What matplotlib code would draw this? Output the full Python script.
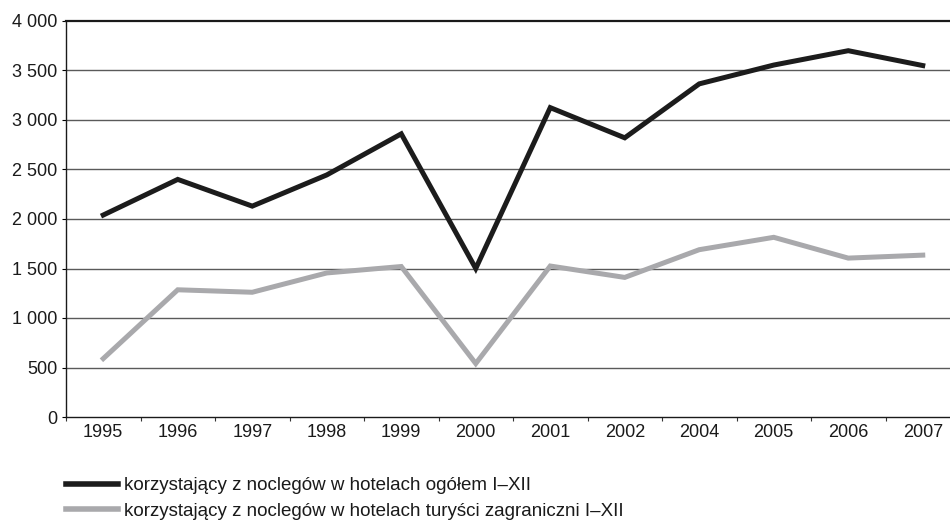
import matplotlib
matplotlib.use("Agg")
import matplotlib.pyplot as plt
import numpy as np

plt.rcParams['font.family'] = ['Liberation Sans', 'DejaVu Sans']

# Data (no 2003 in the source)
years = ["1995", "1996", "1997", "1998", "1999", "2000",
         "2001", "2002", "2004", "2005", "2006", "2007"]
total_guests = [2040, 2400, 2130, 2445, 2860, 1500,
                3125, 2820, 3365, 3555, 3700, 3550]
foreign_guests = [590, 1285, 1260, 1455, 1520, 540,
                  1525, 1410, 1690, 1815, 1605, 1635]
labels = ["korzystający z noclegów w hotelach ogółem I\u2013XII",
          "korzystający z noclegów w hotelach turyści zagraniczni I\u2013XII"]
y_ticks = [0, 500, 1000, 1500, 2000, 2500, 3000, 3500, 4000]

fig = plt.figure(figsize=(9.5, 5.25), dpi=100)
# axes run slightly past the right edge, as in the reference
ax = fig.add_axes([66 / 950, 1 - 417 / 525, 894 / 950, 396 / 525])

x = np.arange(len(years))
ax.plot(x, total_guests, color="#1c1c1c", lw=3.6, solid_joinstyle="miter",
        label=labels[0], zorder=3)
ax.plot(x, foreign_guests, color="#a9a9ac", lw=3.6, solid_joinstyle="miter",
        label=labels[1], zorder=3)

ax.set_xlim(-0.5, len(years) - 0.5)
ax.set_ylim(0, 4000)

ax.set_yticks(y_ticks)
ax.set_yticklabels([f"{v:,}".replace(",", " ") for v in y_ticks])
for v in y_ticks[1:-1]:
    ax.axhline(v, color="#5a5a5a", lw=1.0, zorder=1)

# ticks between categories, labels at category centres
ax.set_xticks(np.arange(-0.5, len(years), 1.0))
ax.set_xticklabels([])
ax.set_xticks(x, minor=True)
ax.set_xticklabels(years, minor=True)
ax.tick_params(axis="x", which="major", direction="out", length=3, width=0.8,
               color="#333333")
ax.tick_params(axis="x", which="minor", length=0, pad=5, labelsize=13,
               labelcolor="#1a1a1a")
ax.tick_params(axis="y", direction="out", length=3, width=0.8, pad=3,
               labelsize=13, labelcolor="#1a1a1a")

for side in ["left", "bottom"]:
    ax.spines[side].set_color("#1a1a1a")
    ax.spines[side].set_linewidth(1.0)
ax.spines["top"].set_color("#1a1a1a")
ax.spines["top"].set_linewidth(1.6)
ax.spines["right"].set_visible(False)

leg = fig.legend(loc="upper left", bbox_to_anchor=(66 / 950, 1 - 477 / 525),
                 frameon=False, fontsize=13.5, handlelength=2.75,
                 handletextpad=0.35, labelspacing=0.45, borderpad=0,
                 borderaxespad=0, labelcolor="#1a1a1a")
for h in leg.get_lines():
    h.set_linewidth(4.0)

fig.savefig("out.png", dpi=100)
